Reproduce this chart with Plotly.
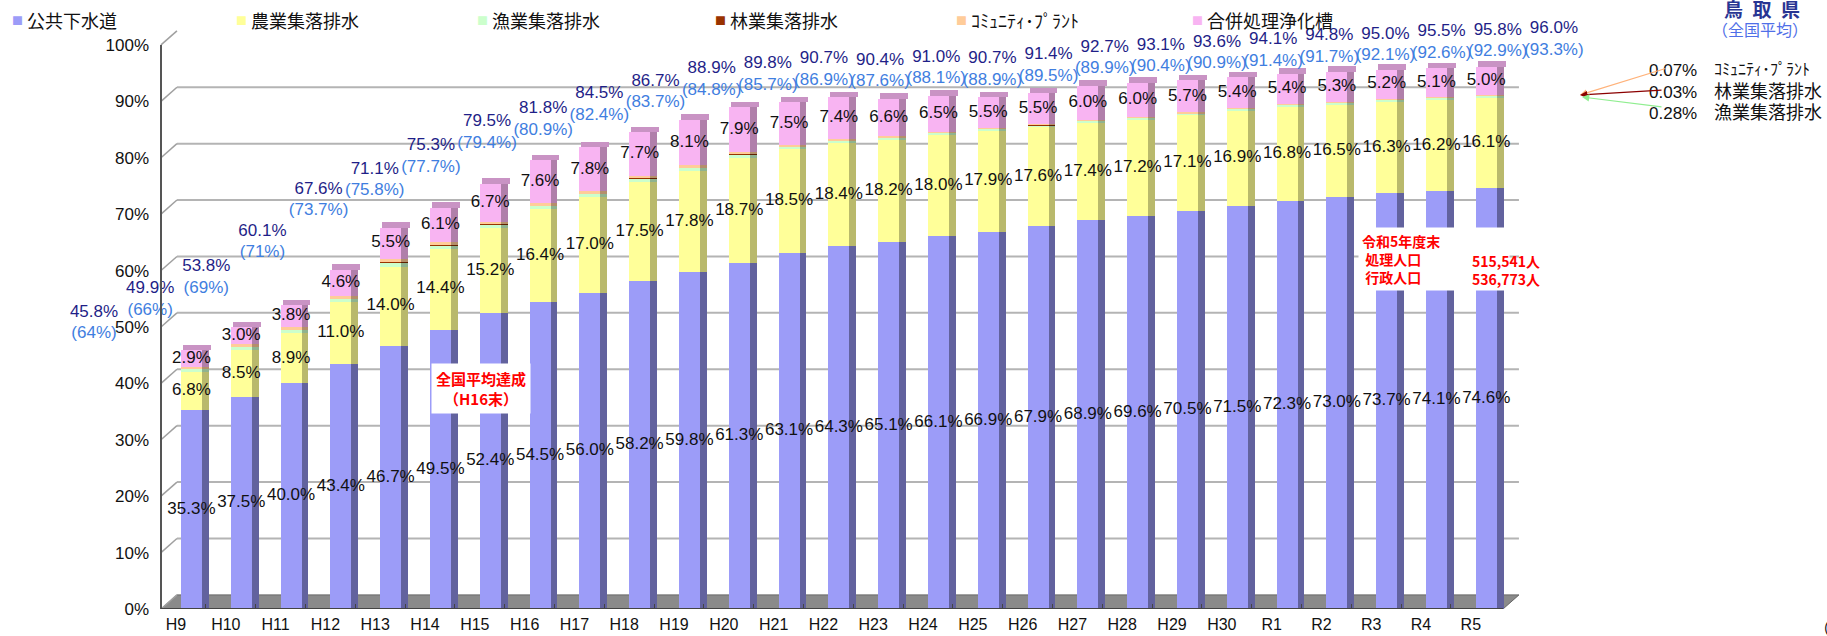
import plotly.graph_objects as go

# ---------------- data ----------------
categories = ["H9", "H10", "H11", "H12", "H13", "H14", "H15", "H16", "H17", "H18",
              "H19", "H20", "H21", "H22", "H23", "H24", "H25", "H26", "H27", "H28",
              "H29", "H30", "R1", "R2", "R3", "R4", "R5"]

sewer = [35.3, 37.5, 40.0, 43.4, 46.7, 49.5, 52.4, 54.5, 56.0, 58.2,
         59.8, 61.3, 63.1, 64.3, 65.1, 66.1, 66.9, 67.9, 68.9, 69.6,
         70.5, 71.5, 72.3, 73.0, 73.7, 74.1, 74.6]
agri = [6.8, 8.5, 8.9, 11.0, 14.0, 14.4, 15.2, 16.4, 17.0, 17.5,
        17.8, 18.7, 18.5, 18.4, 18.2, 18.0, 17.9, 17.6, 17.4, 17.2,
        17.1, 16.9, 16.8, 16.5, 16.3, 16.2, 16.1]
fishing = [0.5, 0.5, 0.6, 0.6, 0.7, 0.6, 0.6, 0.6, 0.6, 0.6,
           0.6, 0.6, 0.4, 0.4, 0.3, 0.3, 0.3, 0.3, 0.3, 0.3,
           0.3, 0.3, 0.3, 0.3, 0.3, 0.3, 0.28]
forest = [0.03, 0.03, 0.03, 0.03, 0.03, 0.03, 0.03, 0.03, 0.03, 0.03,
          0.03, 0.03, 0.03, 0.03, 0.03, 0.03, 0.03, 0.03, 0.03, 0.03,
          0.03, 0.03, 0.03, 0.03, 0.03, 0.03, 0.03]
community = [0.3, 0.4, 0.5, 0.5, 0.7, 0.5, 0.4, 0.4, 0.4, 0.5,
             0.4, 0.4, 0.3, 0.2, 0.2, 0.1, 0.1, 0.1, 0.1, 0.1,
             0.1, 0.1, 0.1, 0.1, 0.1, 0.1, 0.07]
johkasou = [2.9, 3.0, 3.8, 4.6, 5.5, 6.1, 6.7, 7.6, 7.8, 7.7,
            8.1, 7.9, 7.5, 7.4, 6.6, 6.5, 5.5, 5.5, 6.0, 6.0,
            5.7, 5.4, 5.4, 5.3, 5.2, 5.1, 5.0]

tottori_total = [45.8, 49.9, 53.8, 60.1, 67.6, 71.1, 75.3, 79.5, 81.8, 84.5,
                 86.7, 88.9, 89.8, 90.7, 90.4, 91.0, 90.7, 91.4, 92.7, 93.1,
                 93.6, 94.1, 94.8, 95.0, 95.5, 95.8, 96.0]
national_avg = ["64", "66", "69", "71", "73.7", "75.8", "77.7", "79.4", "80.9", "82.4",
                "83.7", "84.8", "85.7", "86.9", "87.6", "88.1", "88.9", "89.5", "89.9", "90.4",
                "90.9", "91.4", "91.7", "92.1", "92.6", "92.9", "93.3"]

y_ticks = [0, 10, 20, 30, 40, 50, 60, 70, 80, 90, 100]

series_names = ["公共下水道", "農業集落排水", "漁業集落排水", "林業集落排水", "ｺﾐｭﾆﾃｨ･ﾌﾟﾗﾝﾄ", "合併処理浄化槽"]
series_values = [sewer, agri, fishing, forest, community, johkasou]
front_colors = ["#9C9CF8", "#FFFF99", "#CCFFCC", "#993300", "#FFCC99", "#F8B4F2"]
side_colors = ["#62629E", "#B9B96C", "#8FB38F", "#5E2000", "#B58F6B", "#B07FAA"]
cap_color = "#C993C4"

r5_minor_vals = ["0.07%", "0.03%", "0.28%"]
r5_minor_names = ["ｺﾐｭﾆﾃｨ･ﾌﾟﾗﾝﾄ", "林業集落排水", "漁業集落排水"]
r5_minor_colors = ["#FFB27A", "#8B0000", "#90EE90"]

# ---------------- style / geometry ----------------
NARROW = "Liberation Sans Narrow, Arial Narrow, Liberation Sans, Arial, sans-serif"
CJK = "Noto Sans CJK JP, sans-serif"
W, H = 1827, 636
PL, PR = 40, 1620            # plot area (wide, so edge labels are in range)
T_PX, B_PX = 28, 609
AXIS_PX = 161                # value axis line position
CAT0_PX, CAT_STEP = 176, 49.8
LBL0_PX, LBL_STEP = 94, 56.15
FLOOR_END_PX = 1503
Y_MAX = 103
FRONT_W, FRONT_OFF = 0.42, 0.10
SIDE_W, SIDE_OFF = 0.14, 0.52
CAP_H = 1.0
DEPTH_X, DEPTH_Y = 0.32, 2.5

x_range = [(PL - CAT0_PX) / CAT_STEP, (PR - CAT0_PX) / CAT_STEP]
x2_range = [(PL - LBL0_PX) / LBL_STEP, (PR - LBL0_PX) / LBL_STEP]
X_AX = (AXIS_PX - CAT0_PX) / CAT_STEP
X_END = (FLOOR_END_PX - CAT0_PX) / CAT_STEP


def px2paper_x(px):
    return (px - PL) / (PR - PL)


def px2paper_y(py):
    return (B_PX - py) / (B_PX - T_PX)


x = list(range(len(categories)))
fig = go.Figure()

running = [0.0] * len(x)
bases = []
for vals, fc, sc in zip(series_values, front_colors, side_colors):
    base = list(running)
    bases.append(base)
    fig.add_trace(go.Bar(x=x, y=vals, base=base, width=FRONT_W, offset=FRONT_OFF,
                         marker=dict(color=fc, line=dict(width=0)), showlegend=False,
                         hoverinfo="skip"))
    fig.add_trace(go.Bar(x=x, y=vals, base=base, width=SIDE_W, offset=SIDE_OFF,
                         marker=dict(color=sc, line=dict(width=0)), showlegend=False,
                         hoverinfo="skip"))
    running = [r + v for r, v in zip(running, vals)]

fig.add_trace(go.Bar(x=x, y=[CAP_H] * len(x), base=running, width=FRONT_W + SIDE_W,
                     offset=FRONT_OFF + 0.04, marker=dict(color=cap_color, line=dict(width=0)),
                     showlegend=False, hoverinfo="skip"))

# segment labels
for idx in (0, 1, 5):
    vals = series_values[idx]
    base = bases[idx]
    fig.add_trace(go.Scatter(
        x=[i + FRONT_OFF + FRONT_W / 2 for i in x], y=[b + v / 2 for b, v in zip(base, vals)],
        text=[f"{v:.1f}%" for v in vals], mode="text",
        textfont=dict(family=NARROW, size=17, color="#111111"),
        showlegend=False, hoverinfo="skip", cliponaxis=False))

# totals & national average on their own overlay axis
fig.add_trace(go.Scatter(
    x=x, y=[t + 6.8 for t in tottori_total], text=[f"{t:.1f}%" for t in tottori_total],
    mode="text", textfont=dict(family=NARROW, size=17, color="#1F1F88"),
    xaxis="x2", showlegend=False, hoverinfo="skip", cliponaxis=False))
fig.add_trace(go.Scatter(
    x=x, y=[t + 3.0 for t in tottori_total], text=[f"({n}%)" for n in national_avg],
    mode="text", textfont=dict(family=NARROW, size=17, color="#3F7EE0"),
    xaxis="x2", showlegend=False, hoverinfo="skip", cliponaxis=False))

# ---------------- decoration shapes ----------------
shapes = []
shapes.append(dict(type="path", xref="x", yref="y", layer="below",
                   path=f"M {X_AX},0 L {X_END},0 L {X_END + DEPTH_X},{DEPTH_Y} L {X_AX + DEPTH_X},{DEPTH_Y} Z",
                   fillcolor="#8A8A8A", line=dict(color="#666666", width=1)))
for t in y_ticks:
    if 0 < t < 100:
        shapes.append(dict(type="line", xref="x", yref="y", layer="below",
                           x0=X_AX + DEPTH_X, x1=X_END + DEPTH_X, y0=t + DEPTH_Y, y1=t + DEPTH_Y,
                           line=dict(color="#B4B4B4", width=2)))
    shapes.append(dict(type="line", xref="x", yref="y", layer="below",
                       x0=X_AX, x1=X_AX + DEPTH_X, y0=t, y1=t + DEPTH_Y,
                       line=dict(color="#A0A0A0", width=1.5)))
shapes.append(dict(type="line", xref="x", yref="y", x0=X_AX, x1=X_AX, y0=0, y1=100,
                   line=dict(color="#555555", width=2)))
shapes.append(dict(type="line", xref="x", yref="y", x0=X_AX, x1=X_END, y0=0, y1=0,
                   line=dict(color="#444444", width=2)))

# ---------------- annotations ----------------
ann = []
leg_left = [13, 237, 478, 716, 957, 1193]
for name, col, lx in zip(series_names, front_colors, leg_left):
    ann.append(dict(xref="paper", yref="paper", x=px2paper_x(lx + 4), y=px2paper_y(20),
                    text="■", showarrow=False, xanchor="center", yanchor="middle",
                    font=dict(family=CJK, size=11, color=col)))
    ann.append(dict(xref="paper", yref="paper", x=px2paper_x(lx + 12), y=px2paper_y(20),
                    text=name, showarrow=False, xanchor="left", yanchor="middle",
                    font=dict(family=CJK, size=18, color="#111111")))

ann.append(dict(xref="paper", yref="paper", x=px2paper_x(1762), y=px2paper_y(9),
                text="<b>鳥\u2002取\u2002県</b>", showarrow=False, xanchor="center", yanchor="middle",
                font=dict(family=CJK, size=19, color="#283593")))
ann.append(dict(xref="paper", yref="paper", x=px2paper_x(1760), y=px2paper_y(29),
                text="（全国平均）", showarrow=False, xanchor="center", yanchor="middle",
                font=dict(family=CJK, size=16, color="#4F6FE8")))

row_y = [68, 90, 111]
tails = [(1667, 68), (1663, 90), (1663, 107)]
heads = [(1580, 95), (1580, 95), (1582, 97)]
for val, nm, col, ry, (tx, ty), (hx, hy) in zip(r5_minor_vals, r5_minor_names, r5_minor_colors,
                                                 row_y, tails, heads):
    ann.append(dict(xref="paper", yref="paper", x=px2paper_x(1673), y=px2paper_y(ry + 2),
                    text=val, showarrow=False, xanchor="center", yanchor="middle",
                    font=dict(family=NARROW, size=17, color="#111111")))
    ann.append(dict(xref="paper", yref="paper", x=px2paper_x(1712), y=px2paper_y(ry),
                    text=nm, showarrow=False, xanchor="left", yanchor="middle",
                    font=dict(family=CJK, size=18 if nm[0] != "ｺ" else 16, color="#111111")))
    ann.append(dict(xref="paper", yref="paper", x=px2paper_x(hx), y=px2paper_y(hy),
                    ax=tx - hx, ay=ty - hy, text="", showarrow=True,
                    arrowhead=2, arrowsize=1.2, arrowwidth=1.2, arrowcolor=col))

ann.append(dict(xref="paper", yref="paper", x=px2paper_x(481), y=px2paper_y(388),
                text="<b>全国平均達成<br>（H16末）</b>", showarrow=False,
                xanchor="center", yanchor="middle", align="center", bgcolor="#FFFFFF",
                borderpad=4, font=dict(family=CJK, size=15, color="#FF0000")))
ann.append(dict(xref="paper", yref="paper", x=px2paper_x(1358), y=px2paper_y(227),
                text="<b>令和5年度末<br> 処理人口<br> 行政人口</b>", showarrow=False,
                xanchor="left", yanchor="top", align="left", bgcolor="#FFFFFF",
                width=144, borderpad=3, font=dict(family=CJK, size=14, color="#FF0000")))
ann.append(dict(xref="paper", yref="paper", x=px2paper_x(1470), y=px2paper_y(270),
                text="<b>515,541人<br>536,773人</b>", showarrow=False,
                xanchor="left", yanchor="middle", align="left",
                font=dict(family=CJK, size=14, color="#FF0000")))
ann.append(dict(xref="paper", yref="paper", x=px2paper_x(1812), y=px2paper_y(627),
                text="（年度）", showarrow=False, xanchor="left", yanchor="middle",
                font=dict(family=CJK, size=16, color="#111111")))

fig.update_layout(
    width=W, height=H, autosize=False,
    margin=dict(l=PL, r=W - PR, t=T_PX, b=H - B_PX, pad=0, autoexpand=False),
    paper_bgcolor="#FFFFFF", plot_bgcolor="#FFFFFF",
    barmode="overlay", bargap=0,
    showlegend=False,
    xaxis=dict(range=x_range, tickmode="array", tickvals=x, ticktext=categories,
               showgrid=False, zeroline=False, showline=False, ticks="", automargin=False,
               tickfont=dict(family=NARROW, size=16, color="#111111"),
               ticklabelstandoff=4,
               minor=dict(ticks="inside", tickvals=[i + 0.6 for i in x[:-1]], ticklen=5,
                          tickcolor="#444444", tickwidth=1, showgrid=False)),
    xaxis2=dict(range=x2_range, overlaying="x", anchor="y", visible=False, automargin=False),
    yaxis=dict(range=[0, Y_MAX], tickmode="array", tickvals=y_ticks,
               ticktext=[f"{t}%" for t in y_ticks], showgrid=False, zeroline=False,
               showline=False, ticks="", ticklabelstandoff=12, automargin=False,
               anchor="free", position=px2paper_x(AXIS_PX),
               tickfont=dict(family=NARROW, size=17, color="#111111")),
    shapes=shapes,
    annotations=ann,
)

fig.write_html("out.html",
               config={"displayModeBar": False, "responsive": False},
               post_script="document.body.style.margin='0';document.body.style.padding='0';"
                           "document.documentElement.style.overflow='hidden';")
